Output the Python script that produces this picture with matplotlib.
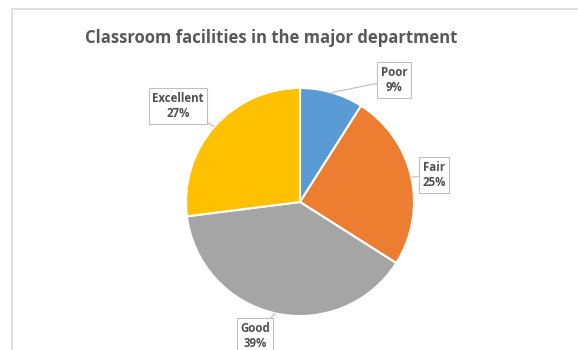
import numpy as np
import matplotlib
matplotlib.use("Agg")
import matplotlib.pyplot as plt
from matplotlib.patches import Rectangle

categories = ["Poor", "Fair", "Good", "Excellent"]
percentages = [9, 25, 39, 27]
colors = ["#5B9BD5", "#ED7D31", "#A5A5A5", "#FFC000"]
title = "Classroom facilities in the major department"

W, H = 578, 350
fig = plt.figure(figsize=(W / 100, H / 100), dpi=100)
fig.patch.set_facecolor("white")
ax = fig.add_axes([0, 0, 1, 1])

def py(y):
    # pixel row (top-down) -> axes y (bottom-up)
    return H - y

cx, cy, r = 300, py(202), 114
wedges, _ = ax.pie(percentages, colors=colors, startangle=90, counterclock=False,
                   center=(cx, cy), radius=r,
                   wedgeprops=dict(edgecolor="white", linewidth=1.5))
ax.set_xlim(0, W)
ax.set_ylim(0, H)
ax.set_aspect("equal")
ax.axis("off")

# chart-area border
ax.add_patch(Rectangle((12, -10), W + 20, py(9) + 10, fill=False,
                       edgecolor="#d9d9d9", linewidth=1.2, clip_on=False))

ax.text(271, py(38), title, ha="center", va="center",
        fontsize=12, color="#595959", fontfamily="Open Sans", fontweight="bold")

label_pos = {"Poor": (394, 80), "Fair": (434, 175), "Good": (255, 336), "Excellent": (178, 106)}

cum = 0
for name, val in zip(categories, percentages):
    mid = (cum + val / 2) / 100 * 2 * np.pi
    cum += val
    ex = cx + r * np.sin(mid)
    ey = cy + r * np.cos(mid)
    lx, ly = label_pos[name]
    ax.annotate(f"{name}\n{val}%", xy=(ex, ey), xytext=(lx, py(ly)),
                ha="center", va="center", fontsize=8.3, fontfamily="Open Sans",
                fontweight="bold", color="#505050", linespacing=1.25,
                bbox=dict(boxstyle="square,pad=0.3", fc="white", ec="#bfbfbf", lw=0.8),
                arrowprops=dict(arrowstyle="-", color="#bfbfbf", lw=0.8,
                                shrinkA=0, shrinkB=0))

fig.savefig("out.png", dpi=100, facecolor="white")
